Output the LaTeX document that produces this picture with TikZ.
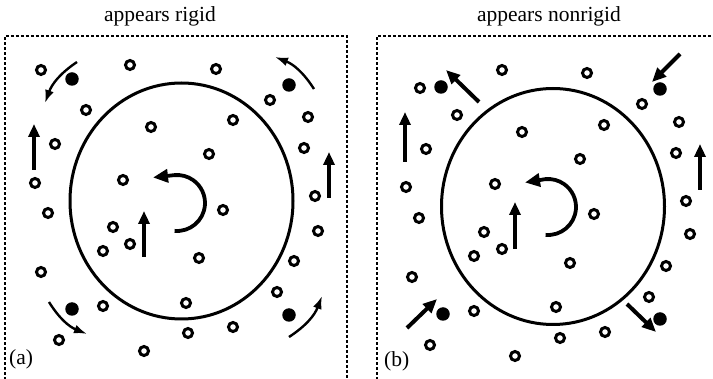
\documentclass[tikz,border=0pt]{standalone}
\usepackage{fontspec}
\setmainfont{Liberation Serif}
\usetikzlibrary{arrows.meta}
\begin{document}
\begin{tikzpicture}[x=1pt,y=-1pt,
  odot/.style={circle,draw,line width=3pt,inner sep=0pt,minimum size=9pt},
  fdot/.style={circle,fill,inner sep=0pt,minimum size=13.5pt},
  frame/.style={line width=1.3pt,dash pattern=on 3pt off 2pt},
  bigring/.style={line width=3pt},
  uparr/.style={line width=3.8pt,-{Triangle[length=13pt,width=11pt]}},
  diagarr/.style={line width=4pt,-{Triangle[length=14pt,width=12pt]}},
  thinarr/.style={line width=2.4pt,-{Latex[length=13pt,width=9pt]}},
  rotarr/.style={line width=3.8pt,-{Triangle[length=15pt,width=13pt]}},
  lbl/.style={font=\fontsize{21.5}{24}\selectfont,inner sep=0pt}
]
\useasboundingbox (0,0) rectangle (713,379);
\clip (0,0) rectangle (713,379);

% titles and labels
\node[lbl,anchor=base] (t1) at (160,22) {appears rigid};
\node[lbl,anchor=base] (t2) at (549,21.5) {appears nonrigid};
\node[lbl,anchor=base west] (la) at (9,365) {(a)};
\node[lbl,anchor=base west] (lb) at (384,367) {(b)};

% frames (open at the bottom / right, cut by the page)
\draw[frame] (5,400) -- (5,36) -- (347,36) -- (347,400);
\draw[frame] (377,400) -- (377,36) -- (730,36);

% ---------------- panel (a) ----------------
\draw[bigring] (181.5,201) ellipse [x radius=111.5pt, y radius=118pt];
\foreach \p [count=\i] in {(41,70),(130,65),(216,69),(270,100),(86,110),(308,117),
  (233,120),(151,127),(55,144),(304,148),(209,154),(35,183),(123,180),(315,196),
  (48,213),(223,210),(113,227),(318,231),(130,244),(103,251),(199,258),(294,261),
  (41,272),(277,292),(186,303),(103,306),(233,327),(188,333),(59,340),(144,351)}
  \node[odot] (ao\i) at \p {};
\node[fdot] (af1) at (72,79) {};
\node[fdot] (af2) at (289,85) {};
\node[fdot] (af3) at (72,309) {};
\node[fdot] (af4) at (289,315) {};

\coordinate (ac) at (177,203);
\draw[rotarr] ([shift={(-95:28pt)}]ac) arc[start angle=-95,end angle=95,radius=28pt] -- (153,177.5);
\draw[uparr] (34,170) -- (34,124);
\draw[uparr] (329,198) -- (329,152);
\draw[uparr] (144,257) -- (144,211);

\draw[thinarr] (77,62) to[bend right=18] (45,103);
\draw[thinarr] (314,89) to[bend right=18] (275,57);
\draw[thinarr] (49,302) to[bend right=18] (87,334);
\draw[thinarr] (289,337) to[bend right=18] (322,296);

% ---------------- panel (b) ----------------
\draw[bigring] (553,206.5) ellipse [x radius=111.5pt, y radius=118pt];
\foreach \p [count=\i] in {(420,88),(502,70),(587,73),(642,104),(457,115),(679,122),
  (604,125),(522,132),(426,149),(676,153),(580,159),(406,187),(495,184),(686,201),
  (419,218),(594,214),(484,232),(690,234),(502,249),(474,256),(570,263),(666,266),
  (412,277),(649,297),(556,307),(474,311),(605,332),(560,338),(430,345),(515,356)}
  \node[odot] (bo\i) at \p {};
\node[fdot] (bf1) at (441,87) {};
\node[fdot] (bf2) at (660,89) {};
\node[fdot] (bf3) at (443,314) {};
\node[fdot] (bf4) at (660,319) {};

\coordinate (bc) at (548,207);
\draw[rotarr] ([shift={(-95:28pt)}]bc) arc[start angle=-95,end angle=95,radius=28pt] -- (525,182.5);
\draw[uparr] (405,162) -- (405,112);
\draw[uparr] (700,190) -- (700,144);
\draw[uparr] (515,249) -- (515,202);

\draw[diagarr] (479,102) -- (446,70);
\draw[diagarr] (680,54) -- (652,82);
\draw[diagarr] (407,328) -- (437,299);
\draw[diagarr] (627,304) -- (656,332);
\end{tikzpicture}
\end{document}
